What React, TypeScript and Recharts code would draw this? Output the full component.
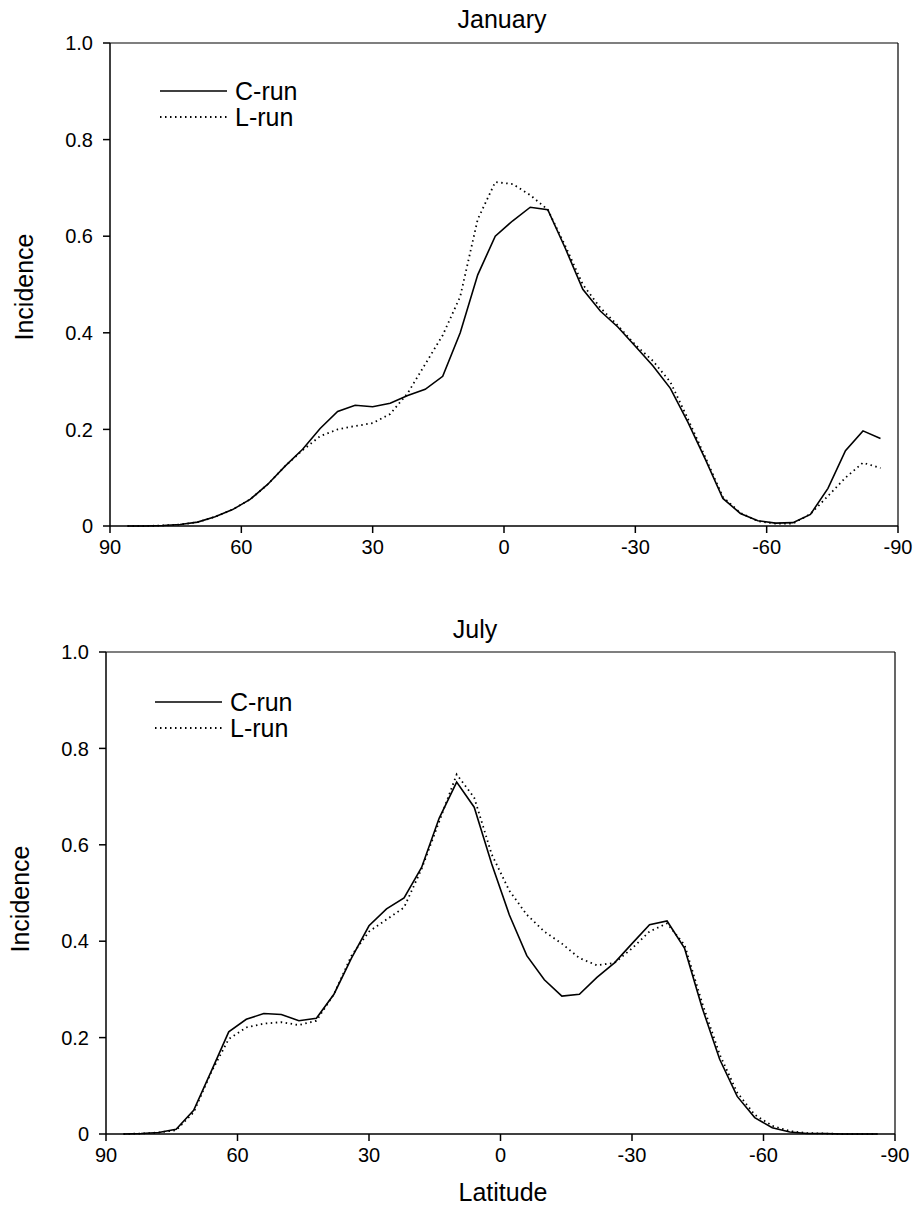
import { LineChart, Line, XAxis, YAxis, ReferenceLine } from 'recharts';

const FONT = '"Liberation Sans", Arial, Helvetica, sans-serif';

// latitude grid (deg), north to south
const latitudes = [
  86, 82, 78, 74, 70, 66, 62, 58, 54, 50, 46, 42, 38, 34, 30, 26, 22, 18, 14, 10, 6, 2,
  -2, -6, -10, -14, -18, -22, -26, -30, -34, -38, -42, -46, -50, -54, -58, -62, -66, -70,
  -74, -78, -82, -86,
];

const janCRun = [
  0, 0, 0.001, 0.003, 0.008, 0.019, 0.034, 0.055, 0.086, 0.124, 0.159, 0.202, 0.237, 0.25,
  0.247, 0.254, 0.27, 0.283, 0.31, 0.4, 0.52, 0.6, 0.632, 0.66, 0.655, 0.575, 0.49, 0.445,
  0.412, 0.372, 0.332, 0.285, 0.215, 0.138, 0.057, 0.026, 0.011, 0.006, 0.007, 0.024, 0.078,
  0.156, 0.197, 0.181,
];
const janLRun = [
  0, 0, 0.001, 0.003, 0.008, 0.019, 0.034, 0.055, 0.086, 0.124, 0.157, 0.186, 0.2, 0.207,
  0.213, 0.232, 0.275, 0.335, 0.395, 0.475, 0.635, 0.712, 0.708, 0.685, 0.655, 0.58, 0.5,
  0.452, 0.415, 0.375, 0.342, 0.298, 0.222, 0.142, 0.06, 0.027, 0.01, 0.005, 0.005, 0.025,
  0.062, 0.1, 0.131, 0.12,
];

const julCRun = [
  0, 0.001, 0.003, 0.01, 0.049, 0.13, 0.212, 0.238, 0.25, 0.248, 0.235, 0.24, 0.29, 0.365,
  0.432, 0.467, 0.49, 0.553, 0.655, 0.73, 0.678, 0.56, 0.455, 0.37, 0.32, 0.286, 0.29, 0.325,
  0.355, 0.395, 0.434, 0.442, 0.385, 0.262, 0.155, 0.078, 0.034, 0.013, 0.004, 0.001, 0.001,
  0, 0, 0,
];
const julLRun = [
  0, 0.001, 0.003, 0.008, 0.045, 0.128, 0.197, 0.221, 0.229, 0.232, 0.226, 0.235, 0.29, 0.37,
  0.42, 0.445, 0.47, 0.55, 0.648, 0.746, 0.698, 0.58, 0.505, 0.455, 0.42, 0.395, 0.365, 0.35,
  0.355, 0.385, 0.42, 0.437, 0.392, 0.272, 0.165, 0.086, 0.04, 0.017, 0.006, 0.002, 0.001,
  0, 0, 0,
];

const latTicks = [90, 60, 30, 0, -30, -60, -90];
const incidenceTicks = [0, 0.2, 0.4, 0.6, 0.8, 1.0];
const seriesNames = ['C-run', 'L-run'];

const buildRows = (c: number[], l: number[]) =>
  latitudes.map((lat, i) => ({ lat, c: c[i], l: l[i] }));

const tickStyle = { fill: '#000', fontSize: 20, fontFamily: FONT };
const axisStroke = { stroke: '#000', strokeWidth: 1.5 };

interface PanelProps {
  top: number;
  width: number;
  height: number;
  margin: { top: number; right: number; bottom: number; left: number };
  c: number[];
  l: number[];
}

function Panel({ top, width, height, margin, c, l }: PanelProps) {
  return (
    <div style={{ position: 'absolute', left: 0, top }}>
      <LineChart width={width} height={height} data={buildRows(c, l)} margin={margin}>
        <XAxis
          dataKey="lat"
          type="number"
          domain={[-90, 90]}
          reversed
          ticks={latTicks}
          interval={0}
          height={40}
          tickSize={7}
          tickMargin={7}
          tick={tickStyle}
          tickLine={axisStroke}
          axisLine={axisStroke}
          allowDataOverflow
        />
        <YAxis
          type="number"
          domain={[0, 1]}
          ticks={incidenceTicks}
          interval={0}
          width={60}
          tickSize={7}
          tickMargin={10}
          tick={tickStyle}
          tickLine={axisStroke}
          axisLine={axisStroke}
          tickFormatter={(v: number) => (v === 0 ? '0' : v.toFixed(1))}
        />
        <ReferenceLine y={1} stroke="#000" strokeWidth={1.2} />
        <ReferenceLine x={-90} stroke="#000" strokeWidth={1.2} />
        <Line
          type="linear"
          dataKey="c"
          stroke="#000"
          strokeWidth={1.6}
          dot={false}
          isAnimationActive={false}
        />
        <Line
          type="linear"
          dataKey="l"
          stroke="#000"
          strokeWidth={1.8}
          strokeDasharray="1.5 3.5"
          dot={false}
          isAnimationActive={false}
        />
      </LineChart>
    </div>
  );
}

function LegendBlock({ x, y }: { x: number; y: number }) {
  return (
    <g>
      <line x1={x} x2={x + 67} y1={y} y2={y} stroke="#000" strokeWidth={1.5} />
      <text x={x + 75} y={y + 9} fontSize={25} fontFamily={FONT} fill="#000">
        {seriesNames[0]}
      </text>
      <line
        x1={x}
        x2={x + 67}
        y1={y + 26}
        y2={y + 26}
        stroke="#000"
        strokeWidth={1.8}
        strokeDasharray="1.5 3.5"
      />
      <text x={x + 75} y={y + 35} fontSize={25} fontFamily={FONT} fill="#000">
        {seriesNames[1]}
      </text>
    </g>
  );
}

export default function App() {
  return (
    <div
      style={{
        position: 'absolute',
        left: 0,
        top: 0,
        width: 914,
        height: 1206,
        background: '#fff',
        fontFamily: FONT,
      }}
    >
      <Panel
        top={0}
        width={914}
        height={600}
        margin={{ top: 43, right: 16, bottom: 34, left: 50 }}
        c={janCRun}
        l={janLRun}
      />
      <Panel
        top={600}
        width={914}
        height={606}
        margin={{ top: 52, right: 19, bottom: 32, left: 46 }}
        c={julCRun}
        l={julLRun}
      />
      <svg
        width={914}
        height={1206}
        style={{ position: 'absolute', left: 0, top: 0, pointerEvents: 'none' }}
      >
        <text x={502} y={28} textAnchor="middle" fontSize={25} fontFamily={FONT}>
          January
        </text>
        <text x={475} y={638} textAnchor="middle" fontSize={25} fontFamily={FONT}>
          July
        </text>
        <text
          x={33}
          y={287}
          textAnchor="middle"
          fontSize={25}
          fontFamily={FONT}
          transform="rotate(-90 33 287)"
        >
          Incidence
        </text>
        <text
          x={29}
          y={899}
          textAnchor="middle"
          fontSize={25}
          fontFamily={FONT}
          transform="rotate(-90 29 899)"
        >
          Incidence
        </text>
        <text x={503} y={1201} textAnchor="middle" fontSize={25} fontFamily={FONT}>
          Latitude
        </text>
        <LegendBlock x={160} y={91} />
        <LegendBlock x={155} y={702} />
      </svg>
    </div>
  );
}
